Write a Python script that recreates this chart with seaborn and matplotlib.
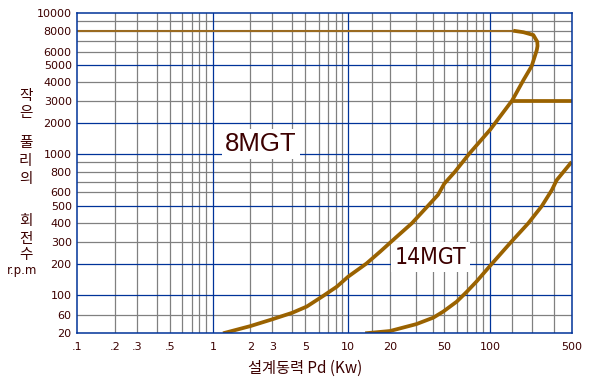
import numpy as np
import matplotlib
matplotlib.use("Agg")
import matplotlib.pyplot as plt
import seaborn as sns
from matplotlib import font_manager as fm

# ---------------- data ----------------
x_ticks = [0.1, 0.2, 0.3, 0.5, 1, 2, 3, 5, 10, 20, 50, 100, 500]
x_ticklabels = [".1", ".2", ".3", ".5", "1", "2", "3", "5", "10", "20", "50", "100", "500"]
y_ticks = [20, 60, 100, 200, 300, 400, 500, 600, 800, 1000, 2000, 3000, 4000, 5000, 6000, 8000, 10000]
y_ticklabels = [str(v) for v in y_ticks]

x_grid_gray = [0.2, 0.3, 0.4, 0.5, 0.6, 0.7, 0.8, 0.9, 2, 3, 4, 5, 6, 7, 8, 9,
               15, 20, 30, 40, 50, 60, 70, 80, 90, 150, 200, 300]
x_grid_blue = [1, 10, 100]
y_grid_gray = [60, 300, 400, 600, 700, 800, 900, 3000, 4000, 6000, 7000, 8000, 9000]
y_grid_blue = [100, 200, 500, 1000, 2000, 5000]

mgt8_kw = [1.2, 2, 3, 4, 5.1, 6.5, 8.15, 10, 13.6, 17, 22, 28, 36, 44, 50, 58.5, 73,
           100, 109, 150, 177, 200, 219, 222, 221, 206, 177, 152]
mgt8_rpm = [20, 31, 47, 64, 75, 99, 121, 152, 203, 252, 324, 400, 495, 580, 680, 800, 1020,
            1740, 2000, 3050, 4120, 4950, 6130, 6500, 6900, 7550, 7840, 8000]
mgt8_limit_kw = [0.1, 152]
mgt8_limit_rpm = [8000, 8000]
mgt8_step_kw = [150, 500]
mgt8_step_rpm = [3000, 3000]

mgt14_kw = [13.3, 20, 30, 40, 49, 60, 70, 81, 102, 146, 190, 240, 287, 322, 500]
mgt14_rpm = [20, 23, 35, 52, 66, 85, 108, 136, 200, 300, 400, 500, 620, 715, 905]

# ------------- axis calibration (gridline value -> fraction of axis) -------------
x_knots = [0.1, 0.2, 0.3, 0.4, 0.5, 0.6, 0.7, 0.8, 0.9, 1, 2, 3, 4, 5, 6, 7, 8, 9, 10,
           15, 20, 30, 40, 50, 60, 70, 80, 90, 100, 150, 200, 300, 500]
x_fracs = [0, .0769, .1208, .1618, .1881, .2124, .2326, .2462, .2603, .2751, .3499, .3944,
           .4349, .4612, .4883, .5071, .5227, .5354, .5481, .5967, .6325, .6857, .7201,
           .7423, .7674, .7876, .8058, .8212, .8354, .8799, .9191, .9648, 1.0]
y_knots = [20, 60, 100, 200, 300, 400, 500, 600, 700, 800, 900, 1000, 2000, 3000, 4000,
           5000, 6000, 7000, 8000, 9000, 10000]
y_fracs = [0, .0563, .1188, .2156, .2844, .3438, .3978, .4406, .4738, .5050, .5344, .5594,
           .6563, .725, .7844, .8375, .88, .9144, .9456, .975, 1.0]


def make_scale(knots, fracs):
    lk = np.log10(np.asarray(knots, float))
    fr = np.asarray(fracs, float)
    s0 = (fr[1] - fr[0]) / (lk[1] - lk[0])
    s1 = (fr[-1] - fr[-2]) / (lk[-1] - lk[-2])

    def fwd(v):
        v = np.asarray(v, float)
        with np.errstate(divide="ignore", invalid="ignore"):
            lv = np.log10(np.where(v > 0, v, 1e-12))
        out = np.interp(lv, lk, fr)
        out = np.where(lv < lk[0], fr[0] + (lv - lk[0]) * s0, out)
        out = np.where(lv > lk[-1], fr[-1] + (lv - lk[-1]) * s1, out)
        return out

    def inv(u):
        u = np.asarray(u, float)
        out = np.interp(u, fr, lk)
        out = np.where(u < fr[0], lk[0] + (u - fr[0]) / s0, out)
        out = np.where(u > fr[-1], lk[-1] + (u - fr[-1]) / s1, out)
        return 10 ** out

    return fwd, inv


# ---------------- style ----------------
sns.set_theme(style="white")
plt.rcParams["font.family"] = ["DejaVu Sans"]
plt.rcParams["axes.unicode_minus"] = False

fonts = fm.fontManager.ttflist
avail = {f.name for f in fonts}
if "Liberation Sans Narrow" in avail:
    lab14 = dict(family=["Liberation Sans Narrow", "DejaVu Sans"], fontsize=18.5)
elif any(f.name == "DejaVu Sans" and f.stretch == "condensed" for f in fonts):
    lab14 = dict(family=["DejaVu Sans"], fontstretch="condensed", fontsize=16.5)
else:
    lab14 = dict(family=["Liberation Sans", "DejaVu Sans"], fontsize=16.3)
KR = ["Noto Sans CJK KR", "DejaVu Sans"]

BLUE = "#003399"
GRAY = "#808080"
BROWN = "#9a6200"
TXT = "#3c0000"

W, H = 594, 378
fig = plt.figure(figsize=(W / 100, H / 100), dpi=100)
fig.patch.set_facecolor("white")
ax = fig.add_axes([77.3 / W, (H - 333.3) / H, 494.4 / W, 320 / H])
ax.set_facecolor("white")

xf, xi = make_scale(x_knots, x_fracs)
yf, yi = make_scale(y_knots, y_fracs)
ax.set_xscale("function", functions=(xf, xi))
ax.set_yscale("function", functions=(yf, yi))

# grid
for v in x_grid_gray:
    ax.axvline(v, color=GRAY, lw=0.9, zorder=1)
for v in y_grid_gray:
    ax.axhline(v, color=GRAY, lw=0.9, zorder=1)
for v in x_grid_blue:
    ax.axvline(v, color=BLUE, lw=0.9, zorder=1.5)
for v in y_grid_blue:
    ax.axhline(v, color=BLUE, lw=0.9, zorder=1.5)

# curves
sns.lineplot(x=mgt8_limit_kw, y=mgt8_limit_rpm, sort=False, estimator=None, ax=ax,
             color="#9a6a20", linewidth=1.5, zorder=3)
for xs, ys in [(mgt8_kw, mgt8_rpm), (mgt8_step_kw, mgt8_step_rpm), (mgt14_kw, mgt14_rpm)]:
    sns.lineplot(x=xs, y=ys, sort=False, estimator=None, ax=ax, color=BROWN,
                 linewidth=2.7, zorder=3.2, solid_joinstyle="round",
                 solid_capstyle="butt")

ax.set_xlim(0.1, 500)
ax.set_ylim(20, 10000)
ax.margins(0)

# series labels
ax.text(0.3716, 0.5706, "8MGT", transform=ax.transAxes, ha="center", va="baseline",
        fontsize=18.5, color=TXT, family=["Liberation Sans", "DejaVu Sans"], zorder=2.5,
        bbox=dict(boxstyle="square,pad=0.12", fc="white", ec="none"))
ax.text(0.7144, 0.2175, "14MGT", transform=ax.transAxes, ha="center", va="baseline",
        color=TXT, zorder=2.5,
        bbox=dict(boxstyle="square,pad=0.15", fc="white", ec="none"), **lab14)

# ticks
ax.set_xticks(x_ticks)
ax.set_xticklabels(x_ticklabels)
ax.set_yticks(y_ticks)
ax.set_yticklabels(y_ticklabels)
ax.minorticks_off()
ax.tick_params(axis="x", length=0, pad=6, labelsize=8, labelcolor=TXT)
ax.tick_params(axis="y", length=0, pad=4, labelsize=8, labelcolor=TXT)

for s in ax.spines.values():
    s.set_color(BLUE)
    s.set_linewidth(1.1)
    s.set_zorder(4)

# axis titles
fig.text(305 / W, 1 - 368.5 / H, "설계동력 Pd (Kw)", ha="center", va="center",
         fontsize=11, color=TXT, family=KR)
ylab = [("작", 96), ("은", 113), ("풀", 142.5), ("리", 160.5), ("의", 179.5),
        ("회", 220.5), ("전", 238.5), ("수", 255.5)]
for ch, yp in ylab:
    fig.text(25.5 / W, 1 - yp / H, ch, ha="center", va="center", fontsize=10.5,
             color=TXT, family=KR)
fig.text(22.5 / W, 1 - 270.5 / H, "r.p.m", ha="center", va="center", fontsize=8.5,
         color=TXT, family=["DejaVu Sans"])

fig.savefig("out.png", dpi=100, facecolor="white")
